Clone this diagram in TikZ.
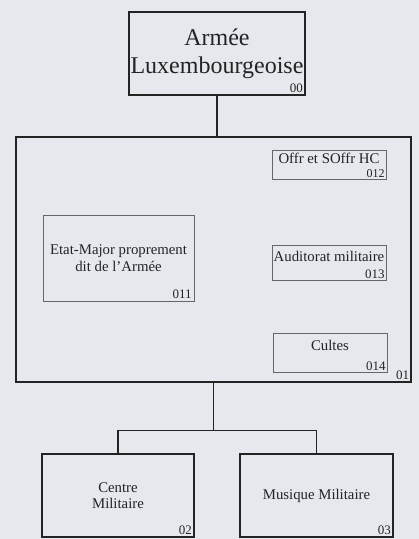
\documentclass[tikz,border=0pt]{standalone}
\usepackage{fontspec}
\setmainfont{Liberation Serif}
\usetikzlibrary{positioning,calc}

\definecolor{paper}{RGB}{229,232,237}
\definecolor{ink}{RGB}{35,35,35}

\begin{document}
\begin{tikzpicture}[
  x=1pt, y=-1pt,
  font=\fontsize{14.8}{17}\selectfont,
  text=ink,
  unit/.style={draw=ink, line width=1.3pt, align=center, inner sep=0pt, fill=paper},
  subunit/.style={draw=black!60, line width=0.8pt, align=center, inner sep=0pt, fill=paper, minimum width=114pt},
  num/.style={anchor=south east, inner sep=2.5pt, font=\fontsize{13}{15}\selectfont},
  link/.style={draw=ink, line width=1.2pt},
]

% ---- page -------------------------------------------------------------------
\fill[paper] (0,0) rectangle (419,539);
\useasboundingbox (0,0) rectangle (419,539);

% ---- command ------------------------------------------------------------------
\node[unit, minimum width=176pt, minimum height=83pt, font=\fontsize{24}{28}\selectfont] (chief) at (217,53.5) {Armée\\Luxembourgeoise};
\node[num] (n00) at (chief.south east) {00};

% ---- general staff and its sections ------------------------------------------------
\node[unit, line width=1.5pt, minimum width=395pt, minimum height=245pt] (staff) at (213.5,259.5) {};
\node[num] (n01) at (staff.south east) {01};

\node[subunit, minimum width=151pt, minimum height=86pt] (etat) at (118.5,258) {Etat-Major proprement\\dit de l'Armée};
\node[num] (n011) at (etat.south east) {011};

\node[subunit, minimum height=29pt, text depth=12.5pt] (offr) at (329,164.5) {Offr et SOffr HC};
\node[num, inner sep=1.5pt, font=\fontsize{12}{14}\selectfont] (n012) at (offr.south east) {012};
\node[subunit, minimum height=35pt, text depth=12.5pt] (audit) at (329,262.5) {Auditorat militaire};
\node[num, inner sep=1.5pt] (n013) at (audit.south east) {013};
\node[subunit, minimum height=39pt, text depth=14.5pt] (cultes) at (330,352.5) {Cultes};
\node[num, inner sep=1.5pt] (n014) at (cultes.south east) {014};

% ---- services ---------------------------------------------------------------------
\node[unit, minimum width=152pt, minimum height=83pt, font=\fontsize{14.8}{16}\selectfont] (centre) at (118,495.5) {Centre\\Militaire};
\node[num] (n02) at (centre.south east) {02};
\node[unit, minimum width=153pt, minimum height=83pt] (musique) at (316.5,495.5) {Musique Militaire};
\node[num] (n03) at (musique.south east) {03};

% ---- links ------------------------------------------------------------------------
\coordinate (fork) at ($(staff.south)+(0,48)$);
\draw[link] (chief.south) -- (chief.south |- staff.north);
\draw[link] (staff.south) -- (fork);
\draw[link] (centre.north) |- (fork) -| (musique.north);

\end{tikzpicture}
\end{document}
